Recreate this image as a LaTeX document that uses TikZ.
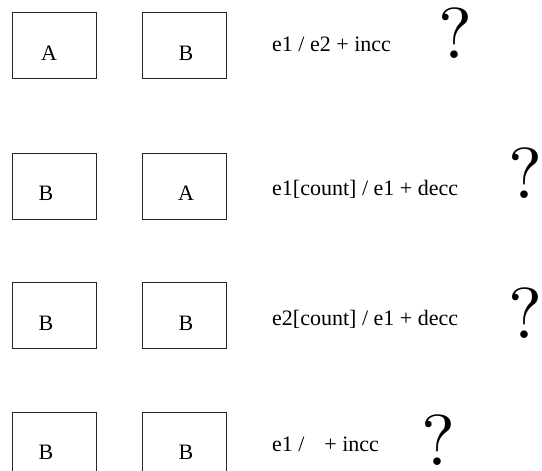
\documentclass[tikz,border=0pt]{standalone}
\usepackage{fontspec}
\newfontfamily\timesf{Liberation Serif}
\newfontfamily\qmf{lmroman10-regular.otf}
\begin{document}
\begin{tikzpicture}[x=1pt,y=-1pt,
  cell/.style={draw=black!85,line width=0.8pt,rectangle,minimum width=84pt,minimum height=66pt,inner sep=0pt},
  lett/.style={anchor=base,inner sep=0pt,font=\timesf\fontsize{22}{26}\selectfont},
  trans/.style={anchor=base west,inner sep=0pt,font=\timesf\fontsize{22}{26}\selectfont},
  qm/.style={anchor=base west,inner sep=0pt,font=\qmf\fontsize{72}{78}\selectfont}]
\useasboundingbox (0,0) rectangle (542,471);
% row 1
\node[cell] (r1a) at (54,45) {};
\node[cell] (r1b) at (184,45) {};
\node[lett] (l1a) at (49,60) {A};
\node[lett] (l1b) at (186,60) {B};
\node[trans] (t1) at (272,51) {e1 / e2 + incc};
\node[qm] (q1) at (438,59) {?};
% row 2
\node[cell] (r2a) at (54,186) {};
\node[cell] (r2b) at (184,186) {};
\node[lett] (l2a) at (46,200) {B};
\node[lett] (l2b) at (186,200) {A};
\node[trans] (t2) at (272,195) {e1[count] / e1 + decc};
\node[qm] (q2) at (508,198) {?};
% row 3
\node[cell] (r3a) at (54,315.5) {};
\node[cell] (r3b) at (184,315.5) {};
\node[lett] (l3a) at (46,330) {B};
\node[lett] (l3b) at (186,330) {B};
\node[trans] (t3) at (272,325) {e2[count] / e1 + decc};
\node[qm] (q3) at (508,338) {?};
% row 4
\node[cell] (r4a) at (54,445) {};
\node[cell] (r4b) at (184,445) {};
\node[lett] (l4a) at (46,459) {B};
\node[lett] (l4b) at (186,459) {B};
\node[trans] (t4) at (272,451) {e1 /\hspace{0.9em}+ incc};
\node[qm] (q4) at (421,465) {?};
\end{tikzpicture}
\end{document}
